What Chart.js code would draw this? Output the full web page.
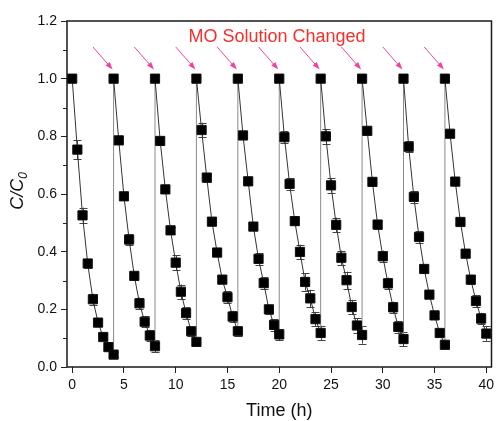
<!DOCTYPE html>
<html>
<head>
<meta charset="utf-8">
<script src="https://cdn.jsdelivr.net/npm/chart.js@4"></script>
<style>
  html, body { margin: 0; padding: 0; background: #fff; }
  #wrap { width: 499px; height: 421px; }
</style>
</head>
<body>
<div id="wrap"><canvas id="cycleChart"></canvas></div>
<script>
// sampling times inside one cycle (h) and start of each cycle
const sampleTimes = [0, 0.5, 1, 1.5, 2, 2.5, 3, 3.5, 4];
const cycleStarts = [0, 4, 8, 12, 16, 20, 24, 28, 32, 36];

// C/C0 per cycle
const cycle1 = [1.0, 0.754, 0.526, 0.359, 0.235, 0.154, 0.104, 0.069, 0.043];
const cycle2 = [1.0, 0.786, 0.592, 0.442, 0.316, 0.221, 0.157, 0.109, 0.072];
const cycle3 = [1.0, 0.784, 0.616, 0.474, 0.362, 0.261, 0.187, 0.124, 0.087];
const cycle4 = [1.0, 0.822, 0.657, 0.504, 0.397, 0.303, 0.242, 0.175, 0.124];
const cycle5 = [1.0, 0.803, 0.644, 0.487, 0.375, 0.291, 0.200, 0.146, 0.113];
const cycle6 = [1.0, 0.797, 0.635, 0.506, 0.399, 0.295, 0.238, 0.166, 0.118];
const cycle7 = [1.0, 0.800, 0.630, 0.493, 0.379, 0.301, 0.208, 0.144, 0.111];
const cycle8 = [1.0, 0.819, 0.642, 0.494, 0.384, 0.290, 0.207, 0.139, 0.097];
const cycle9 = [1.0, 0.764, 0.590, 0.451, 0.340, 0.251, 0.179, 0.118, 0.077];
const cycle10 = [1.0, 0.809, 0.643, 0.503, 0.393, 0.303, 0.229, 0.168, 0.116];

// error bars (+/-)
const err1 = [0, 0.033, 0.027, 0.015, 0.019, 0.010, 0.008, 0.008, 0.008];
const err2 = [0, 0.010, 0.010, 0.018, 0.015, 0.020, 0.020, 0.020, 0.020];
const err3 = [0, 0.015, 0.010, 0.012, 0.025, 0.025, 0.020, 0.015, 0.008];
const err4 = [0, 0.025, 0.015, 0.010, 0.010, 0.010, 0.020, 0.020, 0.015];
const err5 = [0, 0.010, 0.010, 0.010, 0.020, 0.020, 0.015, 0.020, 0.020];
const err6 = [0, 0.020, 0.020, 0.015, 0.025, 0.030, 0.030, 0.025, 0.025];
const err7 = [0, 0.025, 0.025, 0.025, 0.025, 0.030, 0.025, 0.025, 0.030];
const err8 = [0, 0.010, 0.010, 0.015, 0.020, 0.020, 0.020, 0.020, 0.025];
const err9 = [0, 0.020, 0.020, 0.020, 0.015, 0.010, 0.010, 0.010, 0.012];
const err10 = [0, 0.010, 0.010, 0.010, 0.010, 0.015, 0.020, 0.020, 0.025];

const xTicks = [0, 5, 10, 15, 20, 25, 30, 35, 40];
const yTicks = [0, 0.2, 0.4, 0.6, 0.8, 1.0, 1.2];
const yMinorTicks = [0.1, 0.3, 0.5, 0.7, 0.9, 1.1];

const cycles = [cycle1, cycle2, cycle3, cycle4, cycle5, cycle6, cycle7, cycle8, cycle9, cycle10];
const errs = [err1, err2, err3, err4, err5, err6, err7, err8, err9, err10];

const points = [];
const pointErr = [];
cycles.forEach((vals, c) => {
    vals.forEach((v, i) => {
        points.push({x: cycleStarts[c] + sampleTimes[i], y: v});
        pointErr.push(errs[c][i]);
    });
});

const FONT = '"Liberation Sans", Arial, sans-serif';

const extrasPlugin = {
    id: 'extras',
    beforeDatasetsDraw(chart) {
        const ctx = chart.ctx;
        const xs = chart.scales.x, ys = chart.scales.y;
        ctx.save();
        ctx.strokeStyle = '#444';
        ctx.lineWidth = 1;
        points.forEach((p, i) => {
            const e = pointErr[i];
            if (!e) return;
            const px = Math.round(xs.getPixelForValue(p.x)) + 0.5;
            const y1 = ys.getPixelForValue(p.y + e);
            const y2 = ys.getPixelForValue(p.y - e);
            ctx.beginPath();
            ctx.moveTo(px, y1); ctx.lineTo(px, y2);
            ctx.moveTo(px - 4, Math.round(y1) + 0.5); ctx.lineTo(px + 4, Math.round(y1) + 0.5);
            ctx.moveTo(px - 4, Math.round(y2) + 0.5); ctx.lineTo(px + 4, Math.round(y2) + 0.5);
            ctx.stroke();
        });
        ctx.restore();
    },
    afterDraw(chart) {
        const ctx = chart.ctx;
        const a = chart.chartArea;
        const xs = chart.scales.x, ys = chart.scales.y;
        ctx.save();

        // frame
        ctx.strokeStyle = '#1a1a1a';
        ctx.lineWidth = 1.5;
        ctx.strokeRect(a.left, a.top, a.right - a.left, a.bottom - a.top);

        // minor y ticks
        ctx.lineWidth = 1;
        ctx.strokeStyle = '#222';
        yMinorTicks.forEach(v => {
            const py = Math.round(ys.getPixelForValue(v)) + 0.5;
            ctx.beginPath();
            ctx.moveTo(a.left - 4, py); ctx.lineTo(a.left, py);
            ctx.stroke();
        });

        // arrows pointing at each solution change
        ctx.strokeStyle = '#f0449a';
        ctx.fillStyle = '#f0449a';
        cycleStarts.slice(1).forEach(t => {
            const tx = xs.getPixelForValue(t) - 1;
            const ty = ys.getPixelForValue(1.032);
            const sx = xs.getPixelForValue(t - 2);
            const sy = ys.getPixelForValue(1.11);
            const ang = Math.atan2(ty - sy, tx - sx);
            const hl = 8;
            ctx.beginPath();
            ctx.moveTo(sx, sy);
            ctx.lineTo(tx - hl * 0.8 * Math.cos(ang), ty - hl * 0.8 * Math.sin(ang));
            ctx.stroke();
            ctx.beginPath();
            ctx.moveTo(tx, ty);
            ctx.lineTo(tx - hl * Math.cos(ang - 0.35), ty - hl * Math.sin(ang - 0.35));
            ctx.lineTo(tx - hl * Math.cos(ang + 0.35), ty - hl * Math.sin(ang + 0.35));
            ctx.closePath();
            ctx.fill();
        });

        // annotation text
        ctx.fillStyle = '#f2302c';
        ctx.font = '18px ' + FONT;
        ctx.textAlign = 'center';
        ctx.textBaseline = 'alphabetic';
        ctx.fillText('MO Solution Changed', 277, 42);

        // x title
        ctx.fillStyle = '#111';
        ctx.font = '18px ' + FONT;
        ctx.fillText('Time (h)', (a.left + a.right) / 2, 416);

        // y title with subscript
        ctx.translate(23, (a.top + a.bottom) / 2 - 3);
        ctx.rotate(-Math.PI / 2);
        ctx.textAlign = 'left';
        ctx.font = 'italic 18px ' + FONT;
        const main = 'C/C';
        ctx.font = 'italic 18px ' + FONT;
        const w1 = ctx.measureText(main).width;
        ctx.font = 'italic 12px ' + FONT;
        const w2 = ctx.measureText('0').width;
        const x0 = -(w1 + w2) / 2;
        ctx.font = 'italic 18px ' + FONT;
        ctx.fillText(main, x0, 0);
        ctx.font = 'italic 12px ' + FONT;
        ctx.fillText('0', x0 + w1, 4);

        ctx.restore();
    }
};

new Chart(document.getElementById('cycleChart'), {
    type: 'line',
    data: {
        datasets: [{
            data: points,
            borderColor: '#333',
            borderWidth: 1,
            pointStyle: 'rect',
            pointRadius: 6.5,
            pointBackgroundColor: '#000',
            pointBorderColor: '#111',
            pointBorderWidth: 1,
            tension: 0,
            segment: {
                borderColor: c => c.p0.parsed.x === c.p1.parsed.x ? '#8a8a8a' : '#333'
            }
        }]
    },
    options: {
        responsive: true,
        maintainAspectRatio: false,
        animation: false,
        layout: { padding: { top: 21, right: 1, left: 0, bottom: 0 } },
        plugins: {
            legend: { display: false },
            tooltip: { enabled: false }
        },
        scales: {
            x: {
                type: 'linear',
                min: -0.5,
                max: 40.5,
                afterBuildTicks: s => { s.ticks = xTicks.map(v => ({value: v})); },
                afterFit: s => { s.height = 54; },
                border: { display: false },
                grid: { drawOnChartArea: false, drawTicks: true, tickLength: 6, tickColor: '#222' },
                ticks: {
                    padding: 4,
                    color: '#111',
                    font: { family: FONT, size: 14 },
                    maxRotation: 0,
                    callback: v => String(v)
                }
            },
            y: {
                min: 0,
                max: 1.2,
                afterBuildTicks: s => { s.ticks = yTicks.map(v => ({value: v})); },
                afterFit: s => { s.width = 67; },
                border: { display: false },
                grid: { drawOnChartArea: false, drawTicks: true, tickLength: 6, tickColor: '#222' },
                ticks: {
                    padding: 4,
                    color: '#111',
                    font: { family: FONT, size: 14 },
                    callback: v => Number(v).toFixed(1)
                }
            }
        }
    },
    plugins: [extrasPlugin]
});
</script>
</body>
</html>
